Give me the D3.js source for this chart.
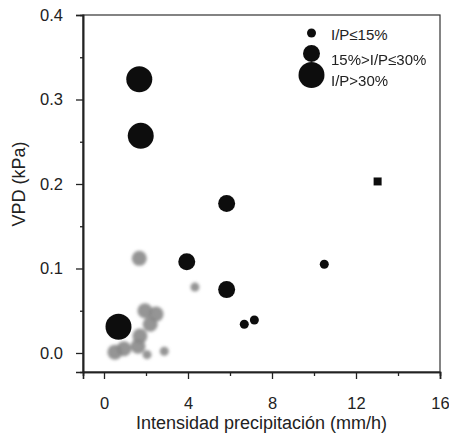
<!DOCTYPE html>
<html>
<head>
<meta charset="utf-8">
<script src="https://cdn.jsdelivr.net/npm/d3@7"></script>
<style>
  body { margin: 0; background: #fff; }
  text { font-family: "Liberation Sans", Arial, sans-serif; fill: #222; }
</style>
</head>
<body>
<div id="chart"></div>
<script>
// Black points (I/P classes: 1 = <=15%, 2 = 15-30%, 3 = >30%)
const blackX = [1.68, 1.75, 0.69, 5.84, 3.94, 5.84, 13.03, 10.49, 6.68, 7.16];
const blackY = [0.324, 0.257, 0.031, 0.177, 0.108, 0.075, 0.203, 0.105, 0.034, 0.039];
const blackClass = [3, 3, 3, 2, 2, 2, 1, 1, 1, 1];
const blackShape = ['circle', 'circle', 'circle', 'circle', 'circle', 'circle', 'square', 'circle', 'circle', 'circle'];

// Grey points
const greyX = [1.68, 4.33, 2.87, 1.95, 2.48, 2.20, 1.71, 1.62, 2.05, 0.52, 0.95];
const greyY = [0.112, 0.078, 0.002, 0.050, 0.046, 0.034, 0.020, 0.008, -0.002, 0.001, 0.005];
const greyClass = [2, 1, 1, 2, 2, 2, 2, 2, 1, 2, 2];

// Axis ticks and labels
const xTicks = [0, 4, 8, 12, 16];
const xMinor = [2, 6, 10, 14];
const yTicks = [0, 0.1, 0.2, 0.3, 0.4];
const yMinor = [0.05, 0.15, 0.25, 0.35];
const legendLabels = ['I/P≤15%', '15%>I/P≤30%', 'I/P>30%'];
const xTitle = 'Intensidad precipitación (mm/h)';
const yTitle = 'VPD (kPa)';

const W = 449, H = 435;
const margin = { top: 15, right: 9, bottom: 63, left: 83 };
const width = W - margin.left - margin.right;
const height = H - margin.top - margin.bottom;

const svg = d3.select('#chart')
    .append('svg')
    .attr('width', W)
    .attr('height', H);

const defs = svg.append('defs');
defs.append('filter').attr('id', 'soft')
    .attr('x', '-20%').attr('y', '-20%').attr('width', '140%').attr('height', '140%')
    .append('feGaussianBlur').attr('stdDeviation', 1.8);
defs.append('filter').attr('id', 'soft2')
    .append('feGaussianBlur').attr('stdDeviation', 0.5);

const g = svg.append('g')
    .attr('transform', `translate(${margin.left},${margin.top})`);

const x = d3.scaleLinear().domain([-1, 16]).range([0, width]);
const y = d3.scaleLinear().domain([-0.0225, 0.4]).range([height, 0]);
const r = d3.scaleOrdinal().domain([1, 2, 3]).range([4.5, 8.5, 13]);
const rGrey = d3.scaleOrdinal().domain([1, 2, 3]).range([4.5, 7.5, 10]);

// Frame
g.append('rect')
    .attr('width', width)
    .attr('height', height)
    .attr('fill', 'none')
    .attr('stroke', '#333')
    .attr('stroke-width', 1.2);

// X axis
const xAxis = g.append('g')
    .attr('transform', `translate(0,${height})`)
    .call(d3.axisBottom(x).tickValues(xTicks).tickSize(7).tickPadding(18).tickFormat(d3.format('d')));
xAxis.append('g')
    .call(d3.axisBottom(x).tickValues(xMinor).tickSize(4).tickFormat(''));

// Y axis
const yAxis = g.append('g')
    .call(d3.axisLeft(y).tickValues(yTicks).tickSize(7).tickPadding(13).tickFormat(d3.format('.1f')));
yAxis.append('g')
    .call(d3.axisLeft(y).tickValues(yMinor).tickSize(3).tickFormat(''));

svg.selectAll('.domain').attr('stroke', '#222').attr('stroke-width', 1.6);
svg.selectAll('.tick line').attr('stroke', '#222').attr('stroke-width', 1.3);
svg.selectAll('.tick text').style('font-size', '16.5px').attr('fill', '#222');

// Axis titles
svg.append('text')
    .attr('x', margin.left + x(7.5))
    .attr('y', 429)
    .attr('text-anchor', 'middle')
    .style('font-size', '18px')
    .text(xTitle);

svg.append('text')
    .attr('transform', `translate(25,${margin.top + y(0.2)}) rotate(-90)`)
    .attr('text-anchor', 'middle')
    .style('font-size', '18px')
    .text(yTitle);

// Grey points
const greyData = greyX.map((d, i) => ({ x: d, y: greyY[i], c: greyClass[i] }));
g.append('g')
    .attr('filter', 'url(#soft)')
    .selectAll('circle')
    .data(greyData)
    .enter()
    .append('circle')
    .attr('cx', d => x(d.x))
    .attr('cy', d => y(d.y))
    .attr('r', d => rGrey(d.c))
    .attr('fill', '#8a8a8a')
    .attr('fill-opacity', 0.9);

// Black points
const blackData = blackX.map((d, i) => ({ x: d, y: blackY[i], c: blackClass[i], s: blackShape[i] }));
const blackG = g.append('g').attr('filter', 'url(#soft2)');
blackG.selectAll('path')
    .data(blackData)
    .enter()
    .append('path')
    .attr('transform', d => `translate(${x(d.x)},${y(d.y)})`)
    .attr('d', d => d.s === 'square'
        ? d3.symbol(d3.symbolSquare, 64)()
        : d3.symbol(d3.symbolCircle, Math.PI * r(d.c) * r(d.c))())
    .attr('fill', '#111');

// Legend
const legend = svg.append('g');
const legendDotY = [33, 53.5, 75];
const legendTextY = [39.5, 64.5, 85.5];
const legendItems = legend.selectAll('.legend-item')
    .data(legendLabels)
    .enter()
    .append('g')
    .attr('class', 'legend-item');

legendItems.append('circle')
    .attr('cx', 311.5)
    .attr('cy', (d, i) => legendDotY[i])
    .attr('r', (d, i) => r(i + 1))
    .attr('fill', '#111')
    .attr('filter', 'url(#soft2)');

legendItems.append('text')
    .attr('x', 331)
    .attr('y', (d, i) => legendTextY[i])
    .style('font-size', '15px')
    .text(d => d);
</script>
</body>
</html>
